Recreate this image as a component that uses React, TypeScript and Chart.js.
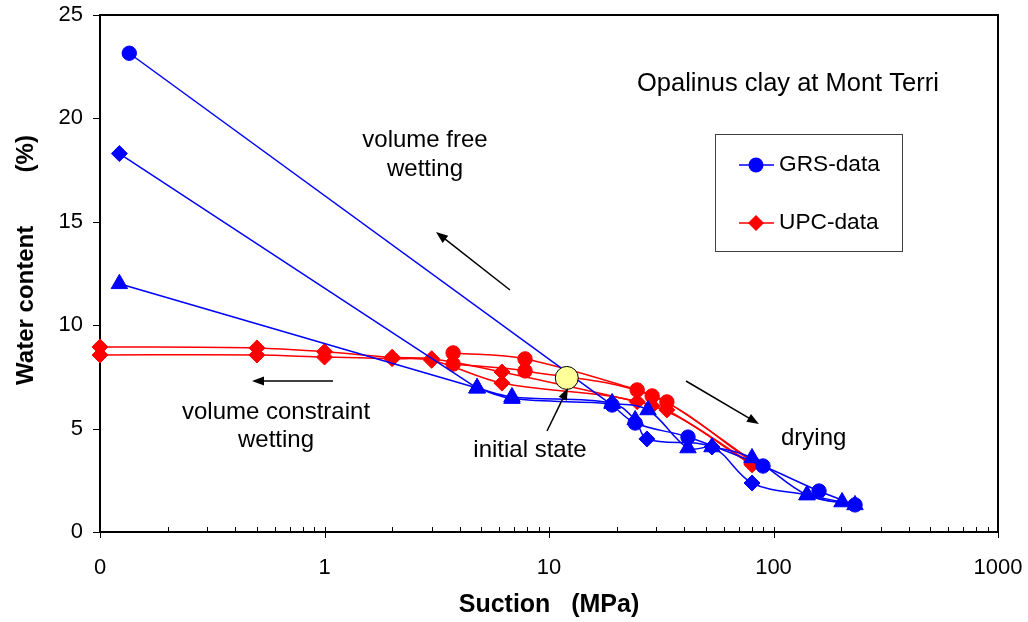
import React, { useEffect, useRef } from 'react';
import { Chart, registerables } from 'chart.js';

Chart.register(...registerables);

// ---------- axis ticks ----------
const xTickValues = [0.1, 1, 10, 100, 1000];
const xTickLabels = ['0', '1', '10', '100', '1000'];
const yTickValues = [0, 5, 10, 15, 20, 25];

// ---------- data (suction MPa, water content %) ----------
const initialSuction = [12.0];
const initialWater = [7.45];

// GRS: volume free wetting
const grsWet1Suction = [0.135, 19.1];
const grsWet1Water = [23.15, 6.14];
const grsWet2Suction = [0.122, 4.78];
const grsWet2Water = [18.3, 6.96];
const grsWet3Suction = [0.122, 4.78];
const grsWet3Water = [12.0, 6.96];

// GRS: other paths (drying etc.)
const grsPath1Suction = [19.1, 24.2, 41.6, 89.8, 159.5, 230.7];
const grsPath1Water = [6.14, 5.27, 4.59, 3.19, 1.98, 1.31];
const grsPath2Suction = [4.78, 6.84, 19.1, 24.2, 27.3, 53.2, 80.2, 141, 202];
const grsPath2Water = [6.96, 6.53, 6.24, 5.42, 4.5, 4.11, 2.37, 1.79, 1.45];
const grsPath3Suction = [4.78, 6.84, 19.1, 27.6, 41.6, 53.2, 80.2, 141, 230.7];
const grsPath3Water = [6.96, 6.45, 6.2, 5.9, 4.06, 4.11, 3.58, 1.79, 1.31];

// UPC paths
const upcPath1Suction = [3.74, 7.82, 24.7, 33.5, 80.2];
const upcPath1Water = [8.66, 8.37, 6.87, 6.29, 3.45];
const upcPath2Suction = [3.74, 7.82, 28.8, 80.2];
const upcPath2Water = [8.12, 7.79, 6.58, 3.4];
const upcPath3Suction = [0.1, 0.5, 1, 2, 3, 6.17, 24.7, 33.5, 80.2];
const upcPath3Water = [8.95, 8.9, 8.72, 8.45, 8.38, 7.74, 6.3, 5.9, 3.3];
const upcPath4Suction = [0.1, 0.5, 1, 2, 3, 6.17, 28.8, 80.2];
const upcPath4Water = [8.56, 8.56, 8.46, 8.38, 8.3, 7.2, 6.1, 3.25];

// ---------- marker styles per point (c circle, d diamond, t triangle, - none) ----------
const grsWet1Marks = ['c', '-'];
const grsWet2Marks = ['d', '-'];
const grsWet3Marks = ['t', 't'];
const grsPath1Marks = ['c', 'c', 'c', 'c', 'c', 'c'];
const grsPath2Marks = ['t', 't', 't', 't', 'd', 'd', 'd', 't', 't'];
const grsPath3Marks = ['t', 't', 't', 't', 't', 't', 't', 't', 't'];
const upcPath1Marks = ['c', 'c', 'c', 'c', 'd'];
const upcPath2Marks = ['c', 'c', 'c', 'd'];
const upcPath3Marks = ['d', 'd', 'd', 'd', 'd', 'd', 'd', 'd', 'd'];
const upcPath4Marks = ['d', 'd', 'd', 'd', 'd', 'd', 'd', 'd'];

const BLUE = '#0000FF';
const RED = '#FF0000';
const FONT = '"Liberation Sans", Arial, Helvetica, sans-serif';

const styleMap: Record<string, string> = { c: 'circle', d: 'rectRot', t: 'triangle', '-': 'circle' };
const radiusMap: Record<string, number> = { c: 7.2, d: 8, t: 9.5, '-': 0 };

function pts(xs: number[], ys: number[]) {
  return xs.map((x, i) => ({ x, y: ys[i] }));
}

function series(xs: number[], ys: number[], marks: string[], color: string, tension: number) {
  return {
    data: pts(xs, ys),
    showLine: true,
    borderColor: color,
    backgroundColor: color,
    borderWidth: 1.5,
    tension,
    clip: false as const,
    pointStyle: marks.map((m) => styleMap[m]),
    pointRadius: marks.map((m) => radiusMap[m]),
    pointBorderWidth: 1,
    pointBorderColor: color,
    pointBackgroundColor: color,
  };
}

function arrow(ctx: CanvasRenderingContext2D, x1: number, y1: number, x2: number, y2: number) {
  const a = Math.atan2(y2 - y1, x2 - x1);
  const hl = 12;
  const hw = 4.5;
  ctx.save();
  ctx.strokeStyle = '#000';
  ctx.fillStyle = '#000';
  ctx.lineWidth = 1.5;
  ctx.beginPath();
  ctx.moveTo(x1, y1);
  ctx.lineTo(x2 - Math.cos(a) * hl * 0.8, y2 - Math.sin(a) * hl * 0.8);
  ctx.stroke();
  ctx.beginPath();
  ctx.moveTo(x2, y2);
  ctx.lineTo(x2 - Math.cos(a) * hl + Math.sin(a) * hw, y2 - Math.sin(a) * hl - Math.cos(a) * hw);
  ctx.lineTo(x2 - Math.cos(a) * hl - Math.sin(a) * hw, y2 - Math.sin(a) * hl + Math.cos(a) * hw);
  ctx.closePath();
  ctx.fill();
  ctx.restore();
}

const framePlugin = {
  id: 'frame',
  beforeDatasetsDraw(chart: any) {
    const { ctx, chartArea: a, scales } = chart;
    const xs = scales.x;
    const ys = scales.y;
    ctx.save();
    ctx.strokeStyle = '#000';
    ctx.lineWidth = 1;
    // minor x ticks (inside)
    for (let d = 0.1; d < 999; d *= 10) {
      for (let k = 2; k <= 9; k++) {
        const px = Math.round(xs.getPixelForValue(k * d)) + 0.5;
        ctx.beginPath();
        ctx.moveTo(px, a.bottom);
        ctx.lineTo(px, a.bottom - 5);
        ctx.stroke();
      }
    }
    // major x ticks (cross)
    xTickValues.forEach((v) => {
      const px = Math.round(xs.getPixelForValue(v)) + 0.5;
      ctx.beginPath();
      ctx.moveTo(px, a.bottom - 5);
      ctx.lineTo(px, a.bottom + 6);
      ctx.stroke();
    });
    // y ticks (outside)
    yTickValues.forEach((v) => {
      const py = Math.round(ys.getPixelForValue(v)) + 0.5;
      ctx.beginPath();
      ctx.moveTo(a.left - 7, py);
      ctx.lineTo(a.left, py);
      ctx.stroke();
    });
    ctx.lineWidth = 2;
    ctx.strokeRect(a.left, a.top, a.right - a.left, a.bottom - a.top);

    // y axis title
    ctx.save();
    ctx.translate(26, 260);
    ctx.rotate(-Math.PI / 2);
    ctx.fillStyle = '#000';
    ctx.font = `bold 24px ${FONT}`;
    ctx.textAlign = 'center';
    ctx.textBaseline = 'middle';
    ctx.fillText('Water content        (%)', 0, 0);
    ctx.restore();
    ctx.restore();
  },
  afterDatasetsDraw(chart: any) {
    const { ctx } = chart;
    ctx.save();
    ctx.fillStyle = '#000';
    ctx.textBaseline = 'middle';
    ctx.textAlign = 'left';
    ctx.font = `25.5px ${FONT}`;
    ctx.fillText('Opalinus clay at Mont Terri', 637, 84);
    ctx.font = `24px ${FONT}`;
    ctx.textAlign = 'center';
    ctx.fillText('volume free', 425, 140);
    ctx.fillText('wetting', 425, 169);
    ctx.fillText('volume constraint', 276, 412);
    ctx.fillText('wetting', 276, 440);
    ctx.fillText('initial state', 530, 450);
    ctx.textAlign = 'left';
    ctx.fillText('drying', 781, 438);
    arrow(ctx, 510, 290, 436, 232);
    arrow(ctx, 333, 381, 252, 381);
    arrow(ctx, 547, 431, 568, 388);
    arrow(ctx, 686, 381, 759, 424);

    // legend
    ctx.fillStyle = '#fff';
    ctx.fillRect(715, 134, 187, 117);
    ctx.strokeStyle = '#404040';
    ctx.lineWidth = 1;
    ctx.strokeRect(715.5, 134.5, 187, 117);
    const entries = [
      { label: 'GRS-data', color: BLUE, style: 'circle', y: 165 },
      { label: 'UPC-data', color: RED, style: 'rectRot', y: 223 },
    ];
    entries.forEach((e) => {
      ctx.strokeStyle = e.color;
      ctx.lineWidth = 1.5;
      ctx.beginPath();
      ctx.moveTo(739, e.y);
      ctx.lineTo(774, e.y);
      ctx.stroke();
      ctx.fillStyle = e.color;
      ctx.beginPath();
      if (e.style === 'circle') {
        ctx.arc(756, e.y, 7.5, 0, Math.PI * 2);
      } else {
        ctx.moveTo(756, e.y - 8);
        ctx.lineTo(764, e.y);
        ctx.lineTo(756, e.y + 8);
        ctx.lineTo(748, e.y);
        ctx.closePath();
      }
      ctx.fill();
      ctx.fillStyle = '#000';
      ctx.font = `22.7px ${FONT}`;
      ctx.textAlign = 'left';
      ctx.fillText(e.label, 779, e.y);
    });
    ctx.restore();
  },
};

export default function App() {
  const canvasRef = useRef<HTMLCanvasElement | null>(null);

  useEffect(() => {
    if (!canvasRef.current) return;
    const initial = {
      data: pts(initialSuction, initialWater),
      showLine: false,
      clip: false as const,
      pointStyle: 'circle',
      pointRadius: 11.5,
      pointBorderWidth: 1,
      pointBorderColor: '#000',
      pointBackgroundColor: '#FFFF99',
    };
    const datasets: any[] = [
      initial,
      series(grsWet1Suction, grsWet1Water, grsWet1Marks, BLUE, 0),
      series(grsWet2Suction, grsWet2Water, grsWet2Marks, BLUE, 0),
      series(grsWet3Suction, grsWet3Water, grsWet3Marks, BLUE, 0),
      series(grsPath1Suction, grsPath1Water, grsPath1Marks, BLUE, 0.35),
      series(grsPath2Suction, grsPath2Water, grsPath2Marks, BLUE, 0.35),
      series(grsPath3Suction, grsPath3Water, grsPath3Marks, BLUE, 0.35),
      series(upcPath1Suction, upcPath1Water, upcPath1Marks, RED, 0.35),
      series(upcPath2Suction, upcPath2Water, upcPath2Marks, RED, 0.35),
      series(upcPath3Suction, upcPath3Water, upcPath3Marks, RED, 0.35),
      series(upcPath4Suction, upcPath4Water, upcPath4Marks, RED, 0.35),
    ];
    const tickFont = { family: FONT, size: 22 };
    const titleFont = { family: FONT, size: 25, weight: 'bold' as const };
    const chart = new Chart(canvasRef.current, {
      type: 'scatter',
      data: { datasets },
      plugins: [framePlugin],
      options: {
        animation: false,
        responsive: true,
        maintainAspectRatio: false,
        layout: { padding: { top: 15, right: 30, left: 0, bottom: 0 } },
        plugins: { legend: { display: false }, tooltip: { enabled: false } },
        scales: {
          x: {
            type: 'logarithmic',
            position: 'bottom',
            min: 0.1,
            max: 1000,
            afterBuildTicks: (s: any) => {
              s.ticks = xTickValues.map((v) => ({ value: v }));
            },
            afterFit: (s: any) => {
              s.height = 90;
              s.paddingLeft = 0;
              s.paddingRight = 0;
            },
            ticks: {
              autoSkip: false,
              maxRotation: 0,
              padding: 23,
              color: '#000',
              font: tickFont,
              callback: (v: any) => {
                const i = xTickValues.indexOf(Number(v));
                return i >= 0 ? xTickLabels[i] : '';
              },
            },
            grid: { display: false, drawTicks: false },
            border: { display: false },
            title: {
              display: true,
              text: 'Suction   (MPa)',
              color: '#000',
              font: titleFont,
              padding: { top: 0, bottom: 2 },
            },
          },
          y: {
            type: 'linear',
            min: 0,
            max: 25,
            afterBuildTicks: (s: any) => {
              s.ticks = yTickValues.map((v) => ({ value: v }));
            },
            afterFit: (s: any) => {
              s.width = 100;
              s.paddingTop = 0;
              s.paddingBottom = 0;
            },
            ticks: { padding: 17, color: '#000', font: tickFont },
            grid: { display: false, drawTicks: false },
            border: { display: false },
          },
        },
      } as any,
    });
    return () => chart.destroy();
  }, []);

  return (
    <div style={{ position: 'fixed', left: 0, top: 0, width: 1028, height: 622, background: '#fff' }}>
      <canvas ref={canvasRef} />
    </div>
  );
}
